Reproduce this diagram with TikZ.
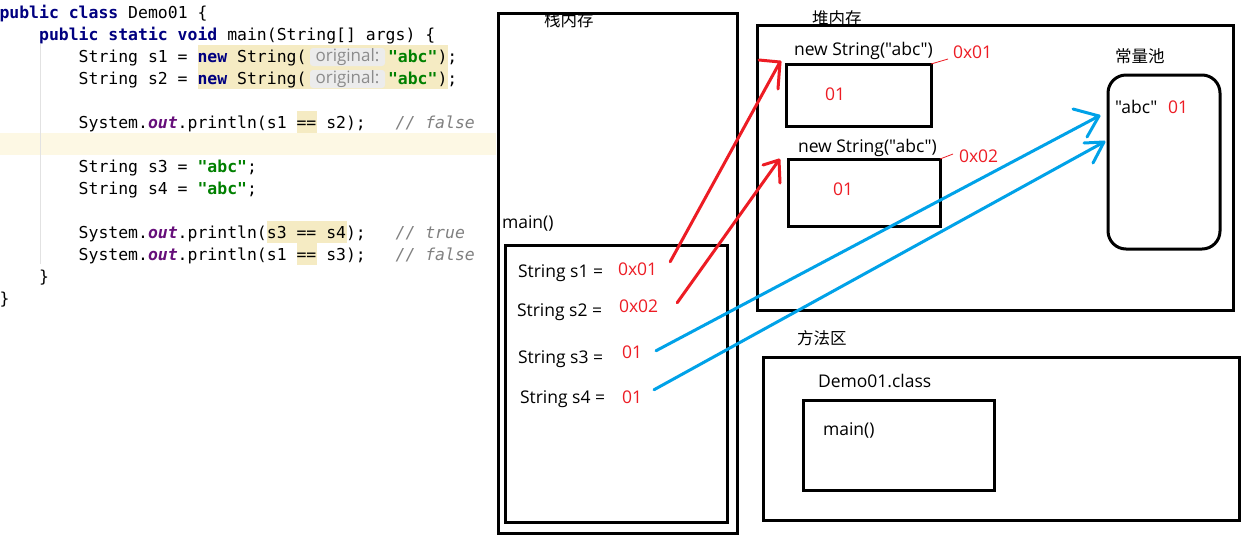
\documentclass[tikz,border=0pt]{standalone}
\usepackage{fontspec}
\usetikzlibrary{calc}
\newfontfamily\codefont{DejaVu Sans Mono}
\newfontfamily\uifont{Open Sans}
\newfontfamily\cjkfont{Noto Sans CJK SC}

\definecolor{kwblue}{HTML}{000080}
\definecolor{strgreen}{HTML}{008000}
\definecolor{fldpurple}{HTML}{660E7A}
\definecolor{cmtgray}{HTML}{808080}
\definecolor{caretline}{HTML}{FDF8E4}
\definecolor{usagehl}{HTML}{F5EBC3}
\definecolor{hintbg}{HTML}{ECECEC}
\definecolor{hinttext}{HTML}{8C8C8C}
\definecolor{guide}{HTML}{E2E2E2}
\definecolor{paintred}{HTML}{ED1C24}
\definecolor{paintblue}{HTML}{00A2E8}

% syntax colouring for the Java listing
\newcommand\kw[1]{\textcolor{kwblue}{\bfseries #1}}
\newcommand\st[1]{\textcolor{strgreen}{\bfseries #1}}
\newcommand\fld[1]{\textcolor{fldpurple}{\bfseries\itshape #1}}
\newcommand\cmt[1]{\textcolor{cmtgray}{\itshape #1}}

\tikzset{
  code/.style={anchor=base west, inner sep=0, outer sep=0,
    font=\codefont\fontsize{16.45}{20}\selectfont},
  hint/.style={inner sep=0, outer sep=0, text=hinttext,
    font=\uifont\fontsize{17}{20}\selectfont},
  lbl/.style={anchor=base west, inner sep=0, outer sep=0,
    font=\uifont\fontsize{17.5}{20}\selectfont},
  val/.style={lbl, text=paintred},
  cjk/.style={anchor=west, inner sep=0, outer sep=0,
    font=\cjkfont\fontsize{16.5}{20}\selectfont},
  box/.style={draw, line width=3pt, inner sep=0, outer sep=0, anchor=north west},
  leader/.style={draw=paintred, line width=0.8pt},
  redarrow/.style={draw=paintred, line width=3pt, line cap=round, line join=round},
  bluearrow/.style={draw=paintblue, line width=3pt, line cap=round, line join=round},
}

\begin{document}
\begin{tikzpicture}[x=1pt, y=-1pt]
\useasboundingbox (0,0) rectangle (1252,550);
\fill[white] (0,0) rectangle (1252,550);

% ---------- editor backgrounds ----------
\fill[caretline] (0,133) rectangle (496,155);
\fill[usagehl] (198,45) rectangle (448,89);
\fill[usagehl] (297,111) rectangle (317,133);
\fill[usagehl] (267,221) rectangle (347,243);
\fill[usagehl] (297,243) rectangle (317,265);
\draw[guide, line width=1pt] (40.5,44) -- (40.5,264);

% inlay hints
\fill[hintbg, rounded corners=3pt] (310,48) rectangle (385,66);
\fill[hintbg, rounded corners=3pt] (310,70) rectangle (385,88);

% ---------- Java listing ----------
\node[code] (c1) at (-0.5,18) {\kw{public class} Demo01 \{};
\node[code] (c2) at (39.1,40) {\kw{public static void} main(String[] args) \{};
\node[code] (c3a) at (78.7,62) {String s1 = \kw{new} String(};
\node[hint] (h3) at (347.5,57) {original:};
\node[code] (c3b) at (388,62) {\st{"abc"});};
\node[code] (c4a) at (78.7,84) {String s2 = \kw{new} String(};
\node[hint] (h4) at (347.5,79) {original:};
\node[code] (c4b) at (388,84) {\st{"abc"});};
\node[code] (c5) at (78.7,128) {System.\fld{out}.println(s1 == s2);~~~\cmt{// false}};
\node[code] (c6) at (78.7,172) {String s3 = \st{"abc"};};
\node[code] (c7) at (78.7,194) {String s4 = \st{"abc"};};
\node[code] (c8) at (78.7,238) {System.\fld{out}.println(s3 == s4);~~~\cmt{// true}};
\node[code] (c9) at (78.7,260) {System.\fld{out}.println(s1 == s3);~~~\cmt{// false}};
\node[code] (c10) at (39.1,282) {\}};
\node[code] (c11) at (-0.5,304) {\}};

% ---------- stack ----------
\node[cjk] (stacklbl) at (544,20) {栈内存};
\node[box, minimum width=239pt, minimum height=520pt] (stack) at (498,13) {};
\node[lbl] (mainlbl) at (502,228) {main()};
\node[box, minimum width=222pt, minimum height=277pt] (frame) at (505,245) {};
\node[lbl] (s1lbl) at (518,277) {String s1 =};
\node[val] (s1val) at (618,275) {0x01};
\node[lbl] (s2lbl) at (517,316) {String s2 =};
\node[val] (s2val) at (619,312) {0x02};
\node[lbl] (s3lbl) at (518,363) {String s3 =};
\node[val] (s3val) at (622,358) {01};
\node[lbl] (s4lbl) at (520,403) {String s4 =};
\node[val] (s4val) at (622,403) {01};

% ---------- heap ----------
\node[cjk] (heaplbl) at (812,18) {堆内存};
\node[box, minimum width=476pt, minimum height=285pt] (heap) at (757,25) {};
\node[lbl] (obj1lbl) at (794,55) {new String("abc")};
\node[box, minimum width=145pt, minimum height=62pt] (box1) at (786,64) {};
\node[val] (box1val) at (825,100) {01};
\node[val] (addr1) at (953,58) {0x01};
\draw[leader] (box1.north east) -- (948,59);
\node[lbl] (obj2lbl) at (798,152) {new String("abc")};
\node[box, minimum width=152pt, minimum height=67pt] (box2) at (788,159) {};
\node[val] (box2val) at (833,195) {01};
\node[val] (addr2) at (959,162) {0x02};
\draw[leader] (box2.north east) -- (953,154);

% constant pool
\node[cjk] (poollbl) at (1115,56) {常量池};
\node[box, rounded corners=18pt, minimum width=112pt, minimum height=174pt] (pool) at (1108,75) {};
\node[lbl] (abc) at (1115,113) {"abc"};
\node[val] (poolval) at (1168,113) {01};

% ---------- method area ----------
\node[cjk] (methodlbl) at (797,338) {方法区};
\node[box, minimum width=476pt, minimum height=163pt] (method) at (763,357) {};
\node[lbl] (clslbl) at (818,387) {Demo01.class};
\node[box, minimum width=191pt, minimum height=90pt] (cls) at (803,400) {};
\node[lbl] (clsmain) at (823,435) {main()};

% ---------- references ----------
\coordinate (r1s) at ($(s1val.east)+(13,-7)$);
\coordinate (r1t) at ($(box1.north west)+(-6,-2)$);
\draw[redarrow] (r1s) -- (r1t) -- ++(-21,-2);
\draw[redarrow] (r1t) -- ++(-2,27);

\coordinate (r2s) at ($(s2val.east)+(19,-3)$);
\coordinate (r2t) at ($(box2.north west)+(-9,1)$);
\draw[redarrow] (r2s) -- (r2t) -- ++(-16,5);
\draw[redarrow] (r2t) -- ++(1,23);

\coordinate (b1s) at ($(s3val.east)+(14,-1)$);
\coordinate (b1t) at ($(pool.north west)+(-9,41)$);
\draw[bluearrow] (b1s) -- (b1t) -- ++(-26,-7);
\draw[bluearrow] (b1t) -- ++(-12,21);

\coordinate (b2s) at ($(s4val.east)+(12,-7)$);
\coordinate (b2t) at ($(pool.north west)+(-4,67)$);
\draw[bluearrow] (b2s) -- (b2t) -- ++(-20,1);
\draw[bluearrow] (b2t) -- ++(-11,21);
\end{tikzpicture}
\end{document}
